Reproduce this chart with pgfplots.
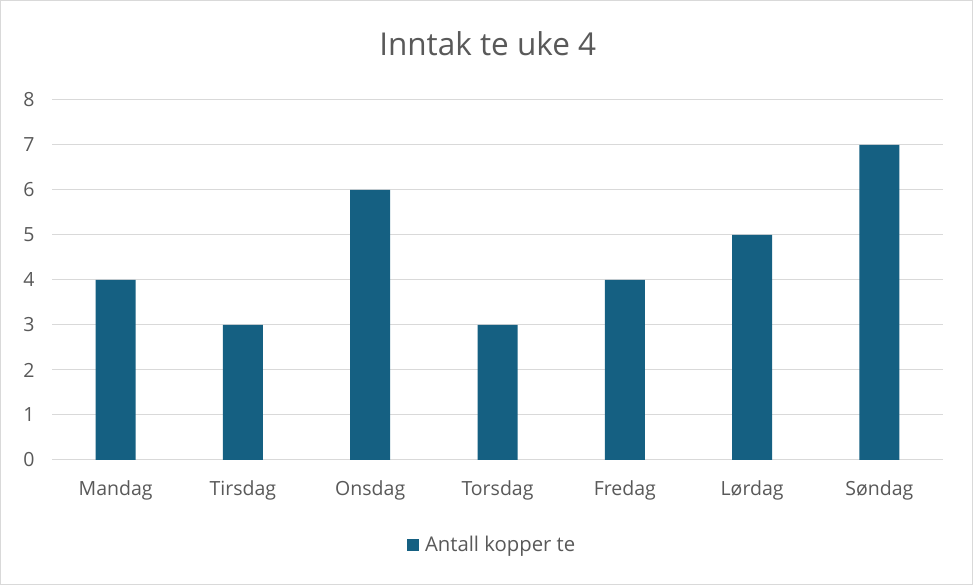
\documentclass[border=0pt]{standalone}
\usepackage{pgfplots}
\pgfplotsset{compat=1.18}
\usepackage{fontspec}
\setmainfont{Open Sans}
\definecolor{barc}{HTML}{156082}
\definecolor{txt}{HTML}{595959}
\definecolor{gridc}{HTML}{D9D9D9}
\begin{document}
\begin{tikzpicture}[x=1pt,y=1pt]
\draw[gridc,line width=1pt,fill=white] (0.5,0.5) rectangle (972.5,584.5);
\begin{axis}[
  at={(52pt,125pt)}, anchor=south west,
  scale only axis, width=891pt, height=360pt,
  ybar, bar width=40pt,
  xmin=-0.5, xmax=6.5, ymin=0, ymax=8,
  ytick={0,...,8},
  xtick={0,...,6},
  xticklabels={Mandag,Tirsdag,Onsdag,Torsdag,Fredag,Lørdag,Søndag},
  /pgf/number format/assume math mode=true,
  tick label style={font=\fontsize{19.5}{23}\selectfont, text=txt},
  yticklabel style={xshift=-14pt},
  xticklabel style={yshift=-17pt},
  major tick length=0pt,
  ymajorgrids, grid style={gridc, line width=1pt},
  axis line style={draw=none},
  axis x line*=bottom, axis y line*=left,
  x axis line style={draw=gridc, line width=1pt},
  title={Inntak te uke 4},
  title style={at={(0.489,1.14)}, anchor=center, font=\fontsize{31.5}{36}\selectfont, text=txt},
  legend style={at={(0.494,-0.236)}, anchor=center, draw=none, font=\fontsize{20.3}{24}\selectfont, text=txt},
  legend image code/.code={\fill[barc] (0pt,-6pt) rectangle (12pt,6pt);},
]
\addplot[fill=barc, draw=none] coordinates {(0,4) (1,3) (2,6) (3,3) (4,4) (5,5) (6,7)};
\addlegendentry{\hspace{4pt}Antall kopper te}
\end{axis}
\end{tikzpicture}
\end{document}
